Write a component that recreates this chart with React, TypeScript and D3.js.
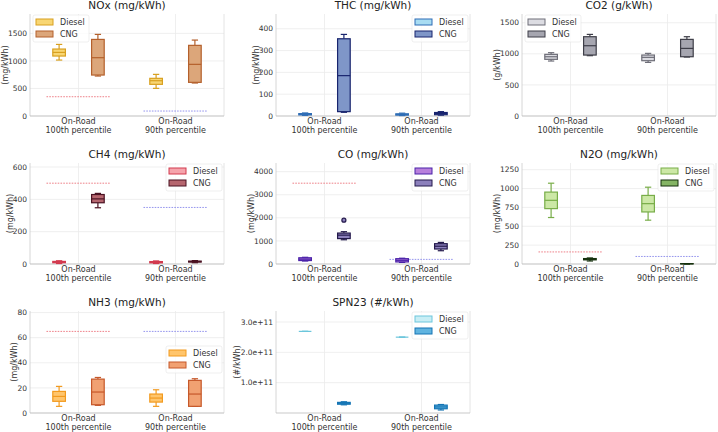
import React from 'react';
import * as d3 from 'd3';

// categories / series
const CATEGORIES = [['On-Road', '100th percentile'], ['On-Road', '90th percentile']];
const FUELS = ['Diesel', 'CNG'];

const TITLES = ['NOx (mg/kWh)', 'THC (mg/kWh)', 'CO2 (g/kWh)', 'CH4 (mg/kWh)', 'CO (mg/kWh)', 'N2O (mg/kWh)', 'NH3 (mg/kWh)', 'SPN23 (#/kWh)'];
const Y_LABELS = ['(mg/kWh)', '(mg/kWh)', '(g/kWh)', '(mg/kWh)', '(mg/kWh)', '(mg/kWh)', '(mg/kWh)', '(#/kWh)'];

// box stats per category: [low whisker, q1, median, q3, high whisker]
const NOX_DIESEL = [[1016, 1089, 1155, 1216, 1300], [502, 575, 641, 684, 756]];
const NOX_CNG = [[726, 744, 1059, 1391, 1482], [599, 611, 938, 1283, 1379]];
const THC_DIESEL = [[3, 5, 8, 11, 14], [2, 4, 7, 10, 13]];
const THC_CNG = [[17, 20, 185, 354, 374], [4, 6, 12, 16, 20]];
const CO2_DIESEL = [[884, 911, 953, 991, 1018], [862, 889, 943, 980, 1007]];
const CO2_CNG = [[970, 980, 1130, 1275, 1312], [948, 953, 1087, 1232, 1275]];
const CH4_DIESEL = [[3, 8, 12, 16, 20], [3, 7, 11, 15, 19]];
const CH4_CNG = [[348, 379, 403, 430, 437], [8, 12, 15, 18, 21]];
const CO_DIESEL = [[130, 150, 210, 270, 290], [70, 90, 160, 230, 250]];
const CO_CNG = [[1050, 1100, 1250, 1340, 1400], [575, 650, 770, 880, 935]];
const N2O_DIESEL = [[616, 734, 844, 953, 1071], [581, 690, 800, 909, 1018]];
const N2O_CNG = [[40, 55, 65, 72, 80], [1, 2, 3, 4, 5]];
const NH3_DIESEL = [[5.3, 9.3, 13.2, 17.2, 21.2], [5.3, 8.7, 11.9, 15.1, 18.5]];
const NH3_CNG = [[6.1, 6.6, 16.7, 27, 28.3], [5.3, 5.3, 15.1, 26, 27.3]];
const SPN_DIESEL = [[2.69e11, 2.69e11, 2.69e11, 2.69e11, 2.69e11], [2.5e11, 2.5e11, 2.5e11, 2.5e11, 2.5e11]];
const SPN_CNG = [[0.27e11, 0.29e11, 0.32e11, 0.35e11, 0.37e11], [0.1e11, 0.14e11, 0.2e11, 0.26e11, 0.28e11]];

// outliers [panel, fuel, category, value]
const OUTLIERS: [number, number, number, number][] = [[4, 1, 0, 1899]];

// limits (null = none)
const LIMIT_100 = [350, null, null, 500, 3500, 160, 65, null];
const LIMIT_90 = [90, null, null, 350, 200, 100, 65, null];

const Y_TICKS = [
  [0, 500, 1000, 1500],
  [0, 100, 200, 300, 400],
  [0, 500, 1000, 1500],
  [0, 200, 400, 600],
  [0, 1000, 2000, 3000, 4000],
  [0, 250, 500, 750, 1000, 1250],
  [0, 20, 40, 60, 80],
  [1e11, 2e11, 3e11],
];

const DIESEL_DATA = [NOX_DIESEL, THC_DIESEL, CO2_DIESEL, CH4_DIESEL, CO_DIESEL, N2O_DIESEL, NH3_DIESEL, SPN_DIESEL];
const CNG_DATA = [NOX_CNG, THC_CNG, CO2_CNG, CH4_CNG, CO_CNG, N2O_CNG, NH3_CNG, SPN_CNG];

// [fill, edge] per panel and fuel
const COLORS = [
  [['#f8d673', '#d8a020'], ['#dca67a', '#b4602c']],
  [['#a8dcf2', '#2f6db5'], ['#7f96c8', '#18246e']],
  [['#dcdce2', '#6e6e78'], ['#a6a6b0', '#3e3e48']],
  [['#f5a4ac', '#d23a4e'], ['#b6666f', '#4a1222']],
  [['#b880dc', '#4a22a8'], ['#8c80bc', '#241a4c']],
  [['#cce8a6', '#78ad48'], ['#84b464', '#15300d']],
  [['#ffc56c', '#f29a1f'], ['#f1a172', '#c6582a']],
  [['#c8eef5', '#6cc6dc'], ['#60b4e0', '#1474b4']],
];
const LEGEND_POS = ['tl', 'tr', 'tl', 'tr', 'tr', 'tr', 'cr', 'tr'];

const COL_LEFT = [30, 276, 522];
const ROW_TOP = [14, 163, 311];
const ROW_BOTTOM = [116, 264, 413];
const AX_W = 194;
const FONT = "'DejaVu Sans', sans-serif";
const TXT = '#333';
const FS = 8;

const charW = (s: string, fs: number) => s.length * 0.62 * fs;

function Panel({ i }: { i: number }) {
  const col = i % 3;
  const row = Math.floor(i / 3);
  const left = COL_LEFT[col];
  const right = left + AX_W;
  const top = ROW_TOP[row];
  const bottom = ROW_BOTTOM[row];

  const series = [DIESEL_DATA[i], CNG_DATA[i]];
  const allVals = [
    ...series.flat(2),
    ...OUTLIERS.filter(o => o[0] === i).map(o => o[3]),
    ...[LIMIT_100[i], LIMIT_90[i]].filter((v): v is number => v != null),
  ];
  const yMax = (d3.max(allVals) ?? 1) * 1.25;

  const x = d3.scaleLinear().domain([-0.5, 1.5]).range([left, right]);
  const y = d3.scaleLinear().domain([0, yMax]).range([bottom, top]);

  const isSpn = i === 7;
  const fmt = (v: number) => (isSpn ? v.toExponential(1) : String(v));
  const tickW = d3.max(Y_TICKS[i], t => charW(fmt(t), 7.5)) ?? 0;
  const yLabelX = left - tickW - 3.5;

  const boxW = 0.13;
  const offs = [-0.2, 0.2];

  const legendW = 56;
  const pos = LEGEND_POS[i];
  const lx = pos === 'tl' ? left + 3 : right - 2 - legendW;
  const ly = pos === 'cr' ? (top + bottom) / 2 - 16 : top + 1;

  return (
    <g>
      {/* grid */}
      {Y_TICKS[i].map(t => (
        <line key={`gy${t}`} x1={left} x2={right} y1={y(t)} y2={y(t)} stroke="#ebebeb" strokeWidth={0.8} />
      ))}
      {CATEGORIES.map((_, c) => (
        <line key={`gx${c}`} x1={x(c)} x2={x(c)} y1={top} y2={bottom} stroke="#ebebeb" strokeWidth={0.8} />
      ))}
      {/* spines */}
      <line x1={left} x2={left} y1={top} y2={bottom} stroke="#cccccc" strokeWidth={0.8} />
      <line x1={right} x2={right} y1={top} y2={bottom} stroke="#dddddd" strokeWidth={0.8} />
      <line x1={left} x2={right} y1={bottom} y2={bottom} stroke="#bbbbbb" strokeWidth={0.8} />

      {/* limit lines */}
      {[LIMIT_100[i], LIMIT_90[i]].map((lim, c) =>
        lim == null ? null : (
          <line key={`lim${c}`} x1={x(c - 0.33)} x2={x(c + 0.33)} y1={y(lim)} y2={y(lim)}
            stroke={c === 0 ? '#e8505a' : '#6a6ae6'} strokeOpacity={0.8} strokeWidth={0.9} strokeDasharray="1.6 1.2" />
        ))}

      {/* boxes */}
      {series.map((data, f) => {
        const [fill, edge] = COLORS[i][f];
        return data.map((st, c) => {
          const cx = x(c + offs[f]);
          const hw = x(boxW / 2) - x(0);
          const [lo, q1, med, q3, hi] = st;
          return (
            <g key={`b${f}${c}`} stroke={edge} strokeWidth={1.2}>
              <line x1={cx} x2={cx} y1={y(q3)} y2={y(hi)} />
              <line x1={cx} x2={cx} y1={y(q1)} y2={y(lo)} />
              <line x1={cx - hw / 2} x2={cx + hw / 2} y1={y(hi)} y2={y(hi)} />
              <line x1={cx - hw / 2} x2={cx + hw / 2} y1={y(lo)} y2={y(lo)} />
              <rect x={cx - hw} width={hw * 2} y={y(q3)} height={Math.max(0, y(q1) - y(q3))} fill={fill} />
              <line x1={cx - hw} x2={cx + hw} y1={y(med)} y2={y(med)} />
            </g>
          );
        });
      })}
      {OUTLIERS.filter(o => o[0] === i).map((o, k) => (
        <circle key={`o${k}`} cx={x(o[2] + offs[o[1]])} cy={y(o[3])} r={2}
          fill={COLORS[i][o[1]][0]} stroke={COLORS[i][o[1]][1]} strokeWidth={1.2} />
      ))}

      {/* y ticks */}
      {Y_TICKS[i].map(t => (
        <text key={`yt${t}`} x={left - 3} y={y(t)} dy="0.35em" textAnchor="end" fontSize={7.5} fill={TXT} fontFamily={FONT}>
          {fmt(t)}
        </text>
      ))}
      {/* x ticks */}
      {CATEGORIES.map((lines, c) => (
        <text key={`xt${c}`} x={x(c)} textAnchor="middle" fontSize={FS} fill={TXT} fontFamily={FONT}>
          <tspan x={x(c)} y={bottom + 8}>{lines[0]}</tspan>
          <tspan x={x(c)} y={bottom + 16.7}>{lines[1]}</tspan>
        </text>
      ))}
      {/* title */}
      <text x={(left + right) / 2} y={top - 5} textAnchor="middle" fontSize={10.5} fill="#222" fontFamily={FONT}>
        {TITLES[i]}
      </text>
      {/* y label */}
      <text transform={`translate(${yLabelX},${(top + bottom) / 2}) rotate(-90)`} textAnchor="middle"
        fontSize={FS} fill={TXT} fontFamily={FONT}>
        {Y_LABELS[i]}
      </text>

      {/* legend */}
      <rect x={lx} y={ly} width={legendW} height={27} rx={2} fill="#fff" fillOpacity={0.8} stroke="#e4e4e4" strokeWidth={0.6} />
      {FUELS.map((name, f) => (
        <g key={`lg${f}`}>
          <rect x={lx + 3} y={ly + 7 + f * 12 - 3} width={17} height={6} fill={COLORS[i][f][0]} stroke={COLORS[i][f][1]} strokeWidth={1} />
          <text x={lx + 27} y={ly + 7 + f * 12} dy="0.35em" fontSize={FS} fill={TXT} fontFamily={FONT}>{name}</text>
        </g>
      ))}
    </g>
  );
}

export default function App() {
  return (
    <svg width={718} height={432} style={{ position: 'absolute', left: 0, top: 0, background: '#fff' }}>
      <rect width={718} height={432} fill="#fff" />
      {TITLES.map((_, i) => <Panel key={i} i={i} />)}
    </svg>
  );
}
